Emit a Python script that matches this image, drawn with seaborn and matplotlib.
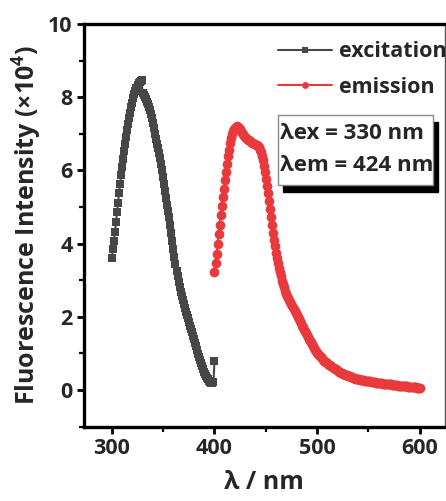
import numpy as np
import pandas as pd
import matplotlib
matplotlib.use("Agg")
import matplotlib.pyplot as plt
from matplotlib.patches import Rectangle
from matplotlib.ticker import MultipleLocator
import seaborn as sns

# ---------------- data ----------------
ex_wavelength = list(range(300, 401))
ex_intensity = [
    3.60, 3.85, 4.08, 4.32, 4.58, 4.85, 5.12, 5.38, 5.63, 5.87,
    6.10, 6.32, 6.53, 6.73, 6.92, 7.10, 7.27, 7.43, 7.58, 7.72,
    7.85, 7.97, 8.08, 8.17, 8.25, 8.32, 8.38, 8.42, 8.45, 8.46,
    8.12, 8.07, 8.01, 7.95, 7.88, 7.81, 7.73, 7.64, 7.54, 7.42,
    7.29, 7.15, 7.00, 6.86, 6.73, 6.60, 6.47, 6.33, 6.18, 6.01,
    5.83, 5.64, 5.44, 5.24, 5.06, 4.89, 4.72, 4.52, 4.30, 4.08,
    3.86, 3.64, 3.43, 3.26, 3.10, 2.95, 2.81, 2.68, 2.56, 2.45,
    2.34, 2.24, 2.14, 2.05, 1.96, 1.86, 1.76, 1.66, 1.57, 1.47,
    1.38, 1.28, 1.19, 1.09, 0.99, 0.90, 0.81, 0.73, 0.65, 0.57,
    0.50, 0.44, 0.38, 0.33, 0.29, 0.25, 0.22, 0.20, 0.19, 0.21,
    0.80,
]

em_wavelength = list(range(400, 601))
em_intensity = [
    3.23, 3.48, 3.72, 3.98, 4.25, 4.52, 4.78, 5.03, 5.27, 5.50,
    5.73, 5.95, 6.17, 6.38, 6.57, 6.74, 6.88, 6.99, 7.07, 7.13,
    7.17, 7.19, 7.20, 7.19, 7.17, 7.13, 7.08, 7.03, 6.99, 6.95,
    6.92, 6.89, 6.86, 6.84, 6.82, 6.80, 6.78, 6.76, 6.74, 6.72,
    6.70, 6.68, 6.66, 6.63, 6.57, 6.50, 6.40, 6.28, 6.12, 5.95,
    5.77, 5.58, 5.38, 5.17, 4.95, 4.73, 4.51, 4.30, 4.10, 3.92,
    3.75, 3.60, 3.46, 3.33, 3.21, 3.10, 2.99, 2.89, 2.80, 2.71,
    2.63, 2.57, 2.51, 2.45, 2.39, 2.34, 2.28, 2.22, 2.16, 2.10,
    2.05, 1.99, 1.93, 1.88, 1.82, 1.76, 1.71, 1.65, 1.60, 1.55,
    1.50, 1.45, 1.40, 1.35, 1.30, 1.25, 1.20, 1.15, 1.10, 1.05,
    1.01, 0.98, 0.95, 0.92, 0.89, 0.86, 0.83, 0.80, 0.77, 0.75,
    0.73, 0.71, 0.69, 0.67, 0.65, 0.62, 0.60, 0.58, 0.56, 0.54,
    0.52, 0.50, 0.48, 0.46, 0.45, 0.44, 0.43, 0.42, 0.41, 0.40,
    0.39, 0.38, 0.37, 0.36, 0.35, 0.33, 0.32, 0.31, 0.31, 0.30,
    0.30, 0.29, 0.28, 0.28, 0.27, 0.27, 0.26, 0.25, 0.25, 0.24,
    0.24, 0.23, 0.23, 0.22, 0.22, 0.21, 0.21, 0.20, 0.20, 0.20,
    0.19, 0.19, 0.18, 0.18, 0.17, 0.17, 0.17, 0.16, 0.16, 0.16,
    0.15, 0.15, 0.15, 0.14, 0.14, 0.14, 0.13, 0.13, 0.13, 0.12,
    0.12, 0.12, 0.12, 0.11, 0.11, 0.11, 0.10, 0.10, 0.10, 0.09,
    0.09, 0.09, 0.08, 0.08, 0.08, 0.07, 0.07, 0.06, 0.06, 0.05,
    0.05,
]

series_labels = ["excitation", "emission"]
x_ticks = [300, 400, 500, 600]
y_ticks = [0, 2, 4, 6, 8, 10]
x_label = "λ / nm"
y_label = "Fluorescence Intensity (×10$^{\\mathbf{4}}$)"
box_lines = ["λex = 330 nm", "λem = 424 nm"]

# ---------------- style ----------------
sns.set_style("ticks")
FONT = ["Open Sans", "DejaVu Sans"]
plt.rcParams["font.family"] = FONT
plt.rcParams["font.weight"] = "bold"
plt.rcParams["mathtext.fontset"] = "custom"
plt.rcParams["mathtext.bf"] = "Open Sans:bold"
plt.rcParams["mathtext.rm"] = "Open Sans:bold"

EX_COLOR = "#474747"
EM_COLOR = "#e8393c"

fig = plt.figure(figsize=(4.46, 5.01), dpi=100)
ax = fig.add_axes([0.188, 0.1487, 0.809, 0.8034])

df_ex = pd.DataFrame({"wavelength": ex_wavelength, "intensity": ex_intensity})
df_em = pd.DataFrame({"wavelength": em_wavelength, "intensity": em_intensity})

sns.lineplot(data=df_ex, x="wavelength", y="intensity", ax=ax, color=EX_COLOR,
             marker="s", markersize=6.3, markeredgewidth=0, linewidth=1.5,
             label=series_labels[0], sort=False)
sns.lineplot(data=df_em, x="wavelength", y="intensity", ax=ax, color=EM_COLOR,
             marker="o", markersize=7, markeredgewidth=0, linewidth=1.5,
             label=series_labels[1], sort=False)

ax.set_xlim(272.7, 624.3)
ax.set_ylim(-1, 10)
ax.set_xticks(x_ticks)
ax.set_yticks(y_ticks)
ax.xaxis.set_minor_locator(MultipleLocator(50))
ax.yaxis.set_minor_locator(MultipleLocator(1))
ax.tick_params(axis="both", which="major", direction="out", length=5,
               width=2, labelsize=15.5, pad=3, color="black")
ax.tick_params(axis="both", which="minor", direction="out", length=3.5,
               width=1.6, color="black")
for lab in ax.get_xticklabels() + ax.get_yticklabels():
    lab.set_fontweight("bold")

for side in ["left", "bottom", "top"]:
    ax.spines[side].set_linewidth(2.4)
    ax.spines[side].set_color("black")
ax.spines["right"].set_linewidth(1.0)
ax.spines["right"].set_color("#555555")

ax.set_xlabel(x_label, fontsize=18, fontweight="bold", labelpad=8)
ax.set_ylabel(y_label, fontsize=18, fontweight="bold", labelpad=3)

leg = ax.legend(loc="upper left", bbox_to_anchor=(0.513, 0.979), frameon=False,
                fontsize=15.5, handlelength=2.55, handletextpad=0.3,
                labelspacing=0.69, borderaxespad=0.0, markerscale=0.7)
for t in leg.get_texts():
    t.set_fontweight("bold")

# annotation box with drop shadow
shadow = Rectangle((0.551, 0.583), 0.43, 0.174, transform=ax.transAxes,
                   facecolor="black", edgecolor="black", zorder=4)
box = Rectangle((0.537, 0.600), 0.43, 0.174, transform=ax.transAxes,
                facecolor="white", edgecolor="#888888", linewidth=1.0, zorder=5)
ax.add_patch(shadow)
ax.add_patch(box)
ax.text(0.543, 0.728, box_lines[0], transform=ax.transAxes, fontsize=16,
        fontweight="bold", va="center", ha="left", zorder=6)
ax.text(0.543, 0.648, box_lines[1], transform=ax.transAxes, fontsize=16,
        fontweight="bold", va="center", ha="left", zorder=6)

fig.savefig("out.png", dpi=100)
